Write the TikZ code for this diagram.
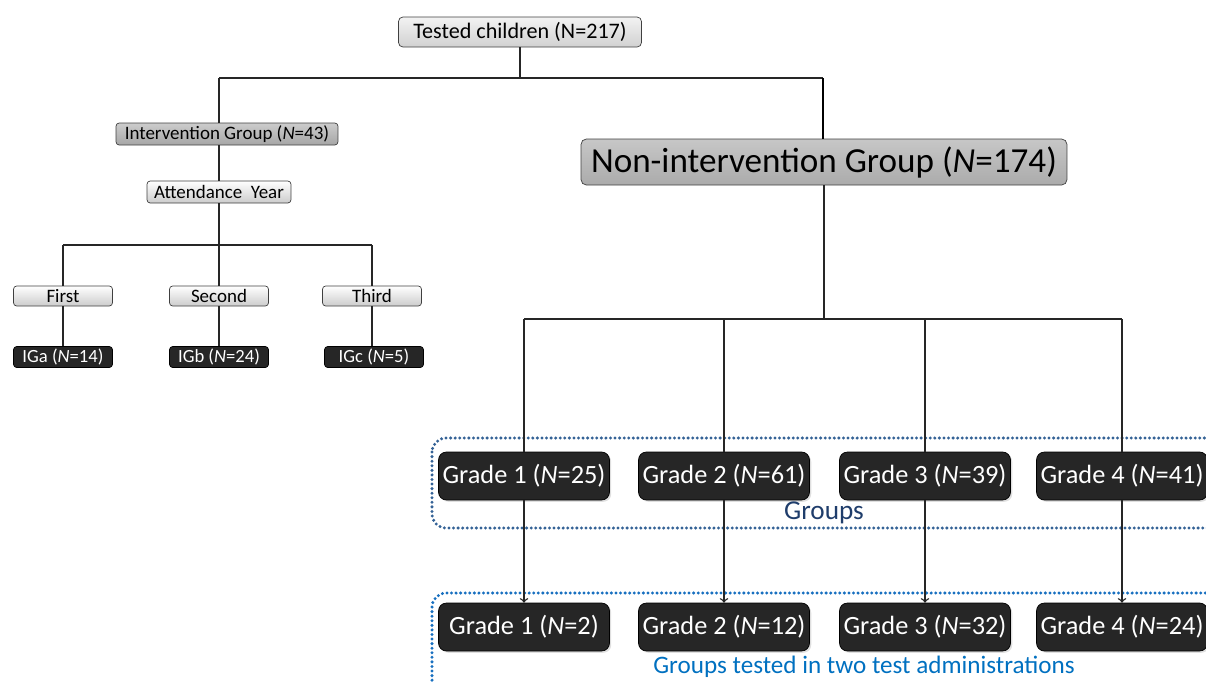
\documentclass[tikz,border=0pt]{standalone}
\usepackage{fontspec}
\setmainfont{Carlito}
\usetikzlibrary{shadows}

\definecolor{darkbox}{RGB}{38,38,38}
\definecolor{framea}{RGB}{52,98,150}
\definecolor{texta}{RGB}{31,61,107}
\definecolor{frameb}{RGB}{24,112,192}
\definecolor{textb}{RGB}{0,112,192}

\begin{document}
\begin{tikzpicture}[x=0.02cm, y=-0.02cm,
    link/.style={line width=0.8pt, black!85},
    lightbox/.style={draw=black!75, rounded corners=1.8pt, top color=white, bottom color=black!20, inner sep=0pt, font=\fontsize{10.8}{12}\selectfont},
    midbox/.style={draw=black!75, rounded corners=1.8pt, top color=black!20, bottom color=black!35, inner sep=0pt, font=\fontsize{10.8}{12}\selectfont},
    darksmall/.style={draw=black, fill=darkbox, text=white, rounded corners=1.8pt, inner sep=0pt, minimum width=1.98cm, minimum height=0.42cm, font=\fontsize{10.6}{12}\selectfont},
    gradebox/.style={draw=black, fill=darkbox, text=white, rounded corners=4.5pt, inner sep=0pt, minimum width=3.42cm, minimum height=0.96cm, font=\fontsize{15}{18}\selectfont, drop shadow={opacity=0.25, shadow xshift=1pt, shadow yshift=-1pt}},
    dotframe/.style={line width=1.9pt, dash pattern=on 0pt off 2.6pt, line cap=round, rounded corners=8pt}]
    \useasboundingbox (0, 0) rectangle (1206, 681);
    \clip (0, 0) rectangle (1206, 681);

    % top of the tree
    \node[lightbox, top color=black!5, bottom color=black!18, rounded corners=2.5pt, minimum width=4.86cm, minimum height=0.6cm, font=\fontsize{12.6}{15}\selectfont] (tested) at (520, 32) {Tested children (N=217)};
    \node[midbox, minimum width=4.44cm, minimum height=0.44cm] (interv) at (227, 134) {Intervention Group (\textit{N}=43)};
    \node[midbox, top color=black!22, bottom color=black!33, rounded corners=3pt, minimum width=9.72cm, minimum height=0.92cm, font=\fontsize{20}{24}\selectfont] (nonint) at (824, 162) {Non-intervention Group (\textit{N}=174)};

    \coordinate (jl) at (219, 78);
    \coordinate (jr) at (823, 78);
    \draw[link] (tested) -- (tested |- jl);
    \draw[link] (jl) -- (jr);
    \draw[link] (jl) -- (jl |- interv.north);
    \draw[link, line width=1.4pt, black] (jr) -- (jr |- nonint.north);

    % intervention branch
    \node[lightbox, minimum width=2.88cm, minimum height=0.44cm] (attend) at (219, 192) {Attendance\ \ Year};
    \draw[link] (interv.south -| attend) -- (attend);

    \node[lightbox, minimum width=1.98cm, minimum height=0.4cm] (first) at (63, 296) {First};
    \node[lightbox, minimum width=1.98cm, minimum height=0.4cm] (second) at (219, 296) {Second};
    \node[lightbox, minimum width=1.98cm, minimum height=0.4cm] (third) at (372, 296) {Third};

    \coordinate (ja) at (219, 245);
    \draw[link] (attend) -- (ja);
    \draw[link] (first.north |- ja) -- (third.north |- ja);
    \draw[link] (first.north |- ja) -- (first.north);
    \draw[link] (ja) -- (second.north);
    \draw[link] (third.north |- ja) -- (third.north);

    \node[darksmall] (iga) at (63, 357) {IGa (\textit{N}=14)};
    \node[darksmall] (igb) at (219, 357) {IGb (\textit{N}=24)};
    \node[darksmall] (igc) at (374, 357) {IGc (\textit{N}=5)};
    \draw[link] (first) -- (iga);
    \draw[link] (second) -- (igb);
    \draw[link] (third.south) -- (third.south |- igc.north);

    % non-intervention branch
    \draw[dotframe, framea] (432, 438) rectangle (1240, 528);
    \draw[dotframe, frameb] (432, 593) rectangle (1240, 720);

    \node[gradebox] (ga) at (524, 476) {Grade 1 (\textit{N}=25)};
    \node[gradebox] (gb) at (724, 476) {Grade 2 (\textit{N}=61)};
    \node[gradebox] (gc) at (925, 476) {Grade 3 (\textit{N}=39)};
    \node[gradebox] (gd) at (1122, 476) {Grade 4 (\textit{N}=41)};

    \node[gradebox] (ta) at (524, 627) {Grade 1 (\textit{N}=2)};
    \node[gradebox] (tb) at (724, 627) {Grade 2 (\textit{N}=12)};
    \node[gradebox] (tc) at (925, 627) {Grade 3 (\textit{N}=32)};
    \node[gradebox] (td) at (1122, 627) {Grade 4 (\textit{N}=24)};

    \node[texta, font=\fontsize{15.5}{18}\selectfont] (groups) at (824, 513) {Groups};
    \node[textb, font=\fontsize{14.3}{17}\selectfont] (twice) at (864, 667) {Groups tested in two test administrations};

    \coordinate (jn) at (824, 319);
    \draw[link] (nonint) -- (jn);
    \draw[link] (ga.north |- jn) -- (gd.north |- jn);
    \foreach \g in {ga, gb, gc, gd}
        \draw[link] (\g.north |- jn) -- (\g.north);

    \draw[link, ->] (ga) -- (ta);
    \draw[link, ->] (gb) -- (tb);
    \draw[link, ->] (gc) -- (tc);
    \draw[link, ->] (gd) -- (td);
\end{tikzpicture}
\end{document}
